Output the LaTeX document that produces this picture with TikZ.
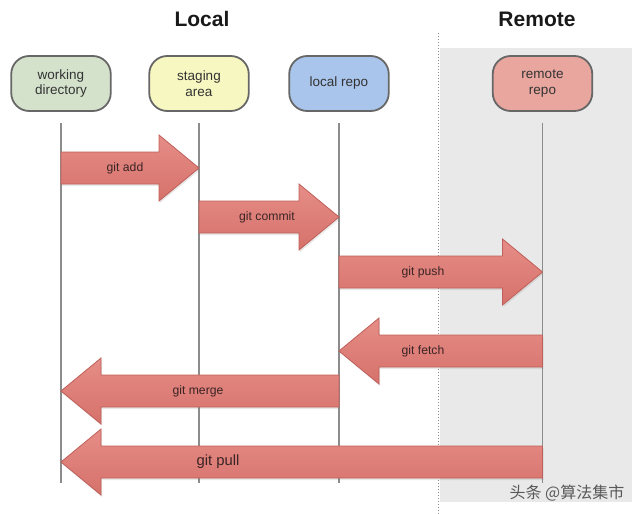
\documentclass[tikz,border=0pt]{standalone}
\usepackage{fontspec}
\setmainfont{Liberation Sans}
\newfontfamily\cjk{Noto Sans CJK SC}
\usetikzlibrary{calc, shadows}

\definecolor{wdgreen}{HTML}{D4E2CC}
\definecolor{styellow}{HTML}{F7F7C1}
\definecolor{lrblue}{HTML}{A9C5EB}
\definecolor{rrred}{HTML}{E8A69E}
\definecolor{edgegray}{HTML}{676767}
\definecolor{lifegray}{HTML}{8C8C8C}
\definecolor{bggray}{HTML}{E8E9E8}
\definecolor{arrowtop}{HTML}{E68D87}
\definecolor{arrowbot}{HTML}{D6716B}
\definecolor{arrowedge}{HTML}{BF5F59}
\definecolor{labelbrown}{HTML}{3A2424}

\begin{document}
\begin{tikzpicture}[
  x=1pt, y=-1pt,
  every node/.style={font=\fontsize{13.5}{15.5}\selectfont, text=black!80},
  repo/.style={draw=edgegray, line width=1.8pt, rounded corners=18pt, minimum width=99.5pt, minimum height=55pt, align=center, inner sep=0pt},
  life/.style={draw=lifegray, line width=1.8pt},
  glabel/.style={font=\fontsize{12.2}{14}\selectfont, text=labelbrown},
  garrow/.style={draw=arrowedge, line width=0.8pt, top color=arrowtop, bottom color=arrowbot,
    drop shadow={shadow xshift=1pt, shadow yshift=-2pt, opacity=0.18},
    to path={($(\tikztostart)!16pt!90:(\tikztotarget)$)
      -- ($(\tikztotarget)!40pt!(\tikztostart)!16pt!90:(\tikztotarget)$)
      -- ($(\tikztotarget)!40pt!(\tikztostart)!33pt!90:(\tikztotarget)$)
      -- (\tikztotarget)
      -- ($(\tikztotarget)!40pt!(\tikztostart)!33pt!-90:(\tikztotarget)$)
      -- ($(\tikztotarget)!40pt!(\tikztostart)!16pt!-90:(\tikztotarget)$)
      -- ($(\tikztostart)!16pt!-90:(\tikztotarget)$) -- cycle}}
]
  \useasboundingbox (0,0) rectangle (640,514);
  \fill[bggray] (440,48) rectangle (632,502);
  \draw[lifegray, line width=1pt, dotted] (438,33) -- (438,514);

  \node[font=\bfseries\fontsize{21}{24}\selectfont, text=black!90] (local) at (202,19) {Local};
  \node[font=\bfseries\fontsize{21}{24}\selectfont, text=black!90] (remote) at (537,19) {Remote};

  \node[repo, fill=wdgreen] (wd) at (61,83.5) {working\\directory};
  \node[repo, fill=styellow] (st) at (199,83.5) {staging\\area};
  \node[repo, fill=lrblue] (lr) at (339,83.5) {local repo};
  \node[repo, fill=rrred] (rr) at (542.5,83.5) {remote\\repo};

  \coordinate (bot) at (0,483);
  \draw[life] ([yshift=-11pt]wd.south) -- (wd |- bot);
  \draw[life] ([yshift=-11pt]st.south) -- (st |- bot);
  \draw[life] ([yshift=-11pt]lr.south) -- (lr |- bot);
  \draw[life] ([yshift=-11pt]rr.south) -- (rr |- bot);

  \draw[garrow] (wd |- 0,168) to (st |- 0,168);
  \draw[garrow] (st |- 0,217) to (lr |- 0,217);
  \draw[garrow] (lr |- 0,272) to (rr |- 0,272);
  \draw[garrow] (rr |- 0,351) to (lr |- 0,351);
  \draw[garrow] (lr |- 0,391) to (wd |- 0,391);
  \draw[garrow] (rr |- 0,462) to (wd |- 0,462);

  \node[glabel] (add) at (125,168) {git add};
  \node[glabel] (commit) at (267,217) {git commit};
  \node[glabel] (push) at (423,272) {git push};
  \node[glabel] (fetch) at (423,351) {git fetch};
  \node[glabel] (merge) at (198,391) {git merge};
  \node[glabel, font=\fontsize{14.8}{17}\selectfont] (pull) at (218,462) {git pull};

  \node[font=\cjk\fontsize{16}{18}\selectfont, text=black!65] (mark) at (567,493) {头条 @算法集市};
\end{tikzpicture}
\end{document}
